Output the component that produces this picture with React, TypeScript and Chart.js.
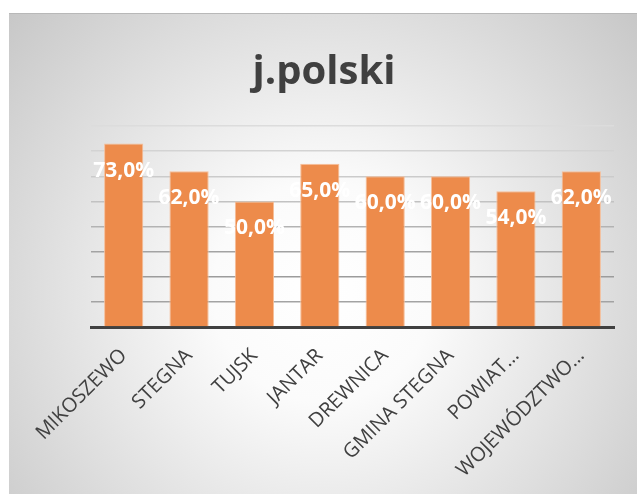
import React, { useEffect, useRef } from "react";
import { Chart, registerables } from "chart.js";

Chart.register(...registerables);

const TITLE = "j.polski";
const categories = [
  "MIKOSZEWO",
  "STEGNA",
  "TUJSK",
  "JANTAR",
  "DREWNICA",
  "GMINA STEGNA",
  "POWIAT…",
  "WOJEWÓDZTWO…",
];
const values = [0.73, 0.62, 0.5, 0.65, 0.6, 0.6, 0.54, 0.62];
const yMax = 0.8;
const yStep = 0.1;

const gridColors = ["#404040", "#a3a3a3", "#9c9c9c", "#a3a3a3", "#b3b3b3", "#c2c2c2", "#cbcbcb", "#d3d3d3", "#dcdcdc"];

const fmt = (v: number) => (v * 100).toFixed(1).replace(".", ",") + "%";

const bgPlugin = {
  id: "bgPlugin",
  beforeDraw(chart: any) {
    const { ctx, width, height } = chart;
    ctx.save();
    const cx = width * 0.5;
    const cy = height * 0.58;
    const g = ctx.createRadialGradient(cx, cy, 0, cx, cy, 440);
    g.addColorStop(0, "#ffffff");
    g.addColorStop(0.25, "#fbfbfb");
    g.addColorStop(1, "#c4c4c4");
    ctx.fillStyle = g;
    ctx.fillRect(0, 0, width, height);
    ctx.fillStyle = "#b8b8b8";
    ctx.fillRect(0, 0, width, 1);
    ctx.fillStyle = "#404040";
    ctx.font = "bold 40px 'Open Sans'";
    ctx.textAlign = "center";
    ctx.textBaseline = "alphabetic";
    ctx.fillText(TITLE, width / 2 + 1, 71);
    ctx.restore();
  },
};

const labelPlugin = {
  id: "labelPlugin",
  afterDatasetsDraw(chart: any) {
    const { ctx } = chart;
    const meta = chart.getDatasetMeta(0);
    ctx.save();
    ctx.fillStyle = "#ffffff";
    ctx.font = "bold 21px 'Open Sans'";
    ctx.textAlign = "center";
    ctx.textBaseline = "middle";
    meta.data.forEach((el: any, i: number) => {
      ctx.fillText(fmt(values[i]), el.x, el.y + 27);
    });
    ctx.restore();
  },
};

export default function App() {
  const ref = useRef<HTMLCanvasElement | null>(null);
  useEffect(() => {
    document.body.style.overflow = "hidden";
    const chart = new Chart(ref.current!, {
      type: "bar",
      data: {
        labels: categories,
        datasets: [
          {
            data: values,
            backgroundColor: "#ED8B4B",
            borderColor: "#F6BE98",
            borderWidth: 1,
            categoryPercentage: 1,
            barPercentage: 0.6,
          },
        ],
      },
      options: {
        animation: false,
        responsive: false,
        maintainAspectRatio: false,
        layout: { padding: { top: 113, left: 0, right: 23, bottom: 0 } },
        plugins: {
          legend: { display: false },
          title: { display: false },
          tooltip: { enabled: false },
        },
        scales: {
          x: {
            grid: { display: false },
            border: { color: "#404040", width: 3 },
            ticks: {
              color: "#404040",
              font: { family: "'Open Sans'", size: 20 },
              maxRotation: 45,
              minRotation: 45,
              autoSkip: false,
              padding: 9,
            },
            afterFit(scale: any) {
              scale.height = 167;
            },
          },
          y: {
            min: 0,
            max: yMax,
            ticks: { display: false, stepSize: yStep },
            border: { display: false },
            grid: {
              drawTicks: false,
              lineWidth: 1.5,
              color: (c: any) => gridColors[c.index] || "#d9d9d9",
            },
            afterFit(scale: any) {
              scale.width = 82;
            },
          },
        },
      },
      plugins: [bgPlugin, labelPlugin],
    });
    return () => chart.destroy();
  }, []);
  return (
    <div style={{ position: "absolute", left: 9, top: 13, width: 628, height: 481 }}>
      <canvas ref={ref} width={628} height={481} style={{ display: "block" }} />
    </div>
  );
}
